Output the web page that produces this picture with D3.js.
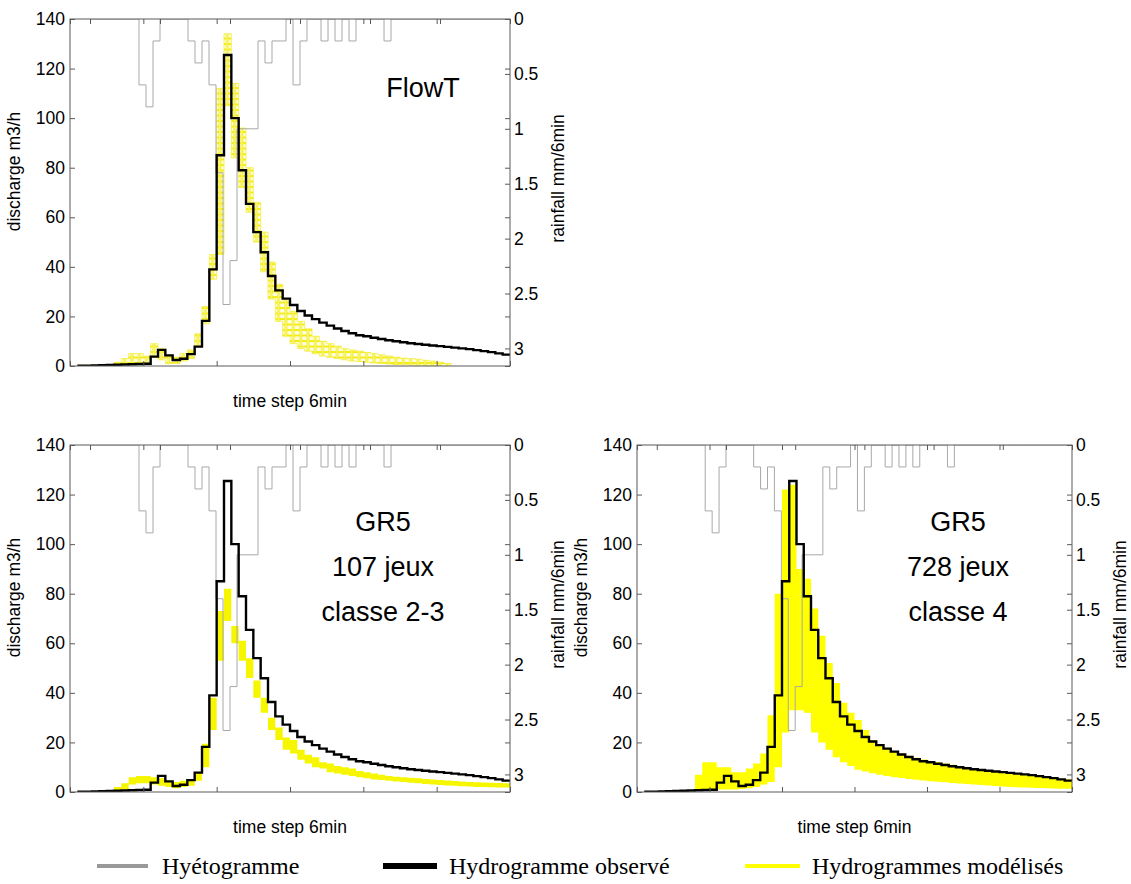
<!DOCTYPE html>
<html>
<head>
<meta charset="utf-8">
<script src="https://cdn.jsdelivr.net/npm/d3@7"></script>
<style>
  body { margin: 0; background: #fff; }
  svg text { font-family: Arial, "Liberation Sans", sans-serif; fill: #000; }
</style>
</head>
<body>
<svg id="chart" width="1131" height="884"></svg>
<script>
// ---------- data ----------
// discharge time steps (6 min), index 0..59
const steps = d3.range(0, 60);

// observed hydrograph, m3/h (null = no record)
const observed = [null, 0.1, 0.15, 0.2, 0.3, 0.4, 0.5, 0.6, 0.7, 0.8,
  0.9, 3.8, 6.5, 4.3, 2.4, 2.9, 4.8, 7.8, 18.2, 39,
  85, 125.5, 100, 79, 65.4, 54, 45.9, 36.3, 30.5, 27.2,
  24.6, 22.2, 20.4, 18.9, 17.5, 16.3, 15.1, 14.1, 13.2, 12.4,
  12.0, 11.4, 10.9, 10.4, 10.0, 9.6, 9.2, 8.9, 8.6, 8.3,
  8.0, 7.7, 7.4, 7.1, 6.8, 6.4, 6.0, 5.6, 5.1, 4.6];

// FlowT ensemble envelope (min / max of simulated discharge)
const flowtLow = [null, 0, 0, 0, 0, 0, 0.2, 0.5, 0.5, 1,
  1, 3.5, 2.5, 1, 1, 2, 3, 8, 17, 35,
  45, 105, 84, 72, 62, 50, 38, 27, 18, 12,
  9, 7, 6, 5, 4, 3.5, 3, 2.5, 2, 1.8,
  1.5, 1.2, 1, 0.8, 0.6, 0.5, 0.4, 0.3, 0.2, 0.1,
  0, 0, null, null, null, null, null, null, null, null];
const flowtHigh = [null, 0.3, 0.3, 0.4, 0.5, 0.6, 1.5, 3, 5, 5,
  4, 9, 7, 4, 3.5, 5, 6.5, 13, 24, 45,
  112, 134, 114, 96, 80, 66, 54, 42, 33, 27,
  22, 18, 15, 12, 10, 9, 8, 7, 6.5, 6,
  5.5, 5, 4.5, 4, 3.5, 3.2, 3, 2.7, 2.3, 2,
  1.5, 1, null, null, null, null, null, null, null, null];

// GR5, 107 parameter sets (classes 2-3)
const gr5aLow = [null, 0, 0, 0, 0, 0, 0.3, 1, 3, 3.5,
  3.5, 3, 2.5, 2, 1.5, 2, 2.5, 4.5, 10, 25,
  53, 69, 60, 53, 46, 38, 32, 25, 21, 17,
  15.5, 13, 11.5, 10, 9.5, 8, 7.5, 7, 6.5, 6,
  5.5, 5, 4.8, 4.5, 4.2, 4, 3.7, 3.5, 3.2, 3,
  2.8, 2.6, 2.5, 2.3, 2.2, 2, 2, 1.9, 1.8, 1.8];
const gr5aHigh = [null, 0.4, 0.4, 0.4, 0.4, 0.4, 2, 3.5, 6, 6.5,
  6.5, 6, 5.5, 4.5, 4, 4.5, 5, 8, 19.5, 38,
  73, 82, 67, 61, 54, 45, 38, 30, 26, 22,
  21, 17, 15, 14, 12, 11.5, 10.5, 10, 9.5, 8.5,
  8, 7.5, 7, 6.5, 6.2, 6, 5.7, 5.5, 5.2, 5,
  4.8, 4.6, 4.4, 4.2, 4, 3.9, 3.8, 3.7, 3.6, 3.5];

// GR5, 728 parameter sets (class 4)
const gr5bLow = [null, null, null, null, null, null, null, null, 0.5, 0.7,
  0.8, 1, 1, 1, 1.2, 1.5, 2, 3, 4, 10,
  24, 33, 33, 32, 24, 20, 17, 14, 12, 10.5,
  9, 8.3, 7.6, 7, 6.5, 6, 5.6, 5.2, 4.9, 4.6,
  4.3, 4.1, 3.9, 3.6, 3.4, 3.2, 3.0, 2.8, 2.6, 2.4,
  2.2, 2.0, 1.9, 1.8, 1.7, 1.6, 1.5, 1.4, 1.3, 1.3];
const gr5bHigh = [null, null, null, null, null, null, null, null, 7, 12,
  12, 10, 10, 8, 8, 9.5, 11.5, 15.5, 31, 80,
  122, 124, 90, 86, 74, 63, 52, 44, 36, 32,
  29, 25, 21, 19, 17.5, 16.5, 15.5, 14.6, 13.8, 13.1,
  12.5, 12, 11.5, 11, 10.5, 10, 9.6, 9.2, 8.8, 8.4,
  8, 7.6, 7.2, 6.9, 6.6, 6.3, 6, 5.7, 5.4, 5.1];

// hyetograph, mm per 6 min, rainfall time index 0..59
const rain = [0, 0, 0, 0, 0, 0, 0, 0.6, 0.8, 0.2,
  0, 0, 0, 0, 0.2, 0.4, 0.2, 0.6, 1.4, 2.6,
  2.2, 1.0, 1.0, 1.0, 0.2, 0.4, 0.2, 0.2, 0, 0.6,
  0.2, 0, 0, 0.2, 0, 0.2, 0, 0.2, 0, 0,
  0, 0, 0.2, 0, 0, 0, 0, 0, 0, 0,
  0, 0, 0, 0, 0, 0, 0, 0, 0, 0];

// axis ticks
const dischargeTicks = [0, 20, 40, 60, 80, 100, 120, 140];
const rainTicks = [0, 0.5, 1, 1.5, 2, 2.5, 3];
const rainTickLabels = ["0", "0.5", "1", "1.5", "2", "2.5", "3"];
const timeTicks = [0, 10, 20, 30, 40, 50, 60];

// legend
const legendLabels = ["Hyétogramme", "Hydrogramme observé", "Hydrogrammes modélisés"];

// ---------- drawing ----------
const svg = d3.select("#chart");
svg.append("rect").attr("width", 1131).attr("height", 884).attr("fill", "#fff");

const defs = svg.append("defs");
// hollow square markers used for the FlowT ensemble
const pat = defs.append("pattern")
  .attr("id", "squares").attr("patternUnits", "userSpaceOnUse")
  .attr("width", 440 / 60).attr("height", 5.5);
pat.append("rect").attr("width", 440 / 60).attr("height", 5.5).attr("fill", "#fffde0");
pat.append("rect").attr("x", 0.8).attr("y", 0.5).attr("width", 5.6).attr("height", 4.6)
  .attr("fill", "none").attr("stroke", "#f2ec10").attr("stroke-width", 1);

const AX_FONT = "17.5px";

const panels = [
  { x: 70, y: 19, w: 440, h: 347, low: flowtLow, high: flowtHigh, fill: "url(#squares)",
    title: ["FlowT"], tx: 423, ty: 97, tdy: 0 },
  { x: 70, y: 445, w: 440, h: 347, low: gr5aLow, high: gr5aHigh, fill: "#f6f600",
    title: ["GR5", "107 jeux", "classe 2-3"], tx: 383, ty: 531, tdy: 45 },
  { x: 637, y: 445, w: 435, h: 347, low: gr5bLow, high: gr5bHigh, fill: "#ffff00",
    title: ["GR5", "728 jeux", "classe 4"], tx: 958, ty: 531, tdy: 45 }
];

panels.forEach((p, i) => {
  const g = svg.append("g");
  const xQ = d3.scaleLinear().domain([0, 60]).range([p.x, p.x + p.w]);
  const xR = d3.scaleLinear().domain([-20 / 7, 60]).range([p.x, p.x + p.w]);
  const yQ = d3.scaleLinear().domain([0, 140]).range([p.y + p.h, p.y]);
  const yR = d3.scaleLinear().domain([0, 3.16]).range([p.y, p.y + p.h]);

  const clipId = "clip" + i;
  defs.append("clipPath").attr("id", clipId).append("rect")
    .attr("x", p.x).attr("y", p.y).attr("width", p.w).attr("height", p.h);
  const plot = g.append("g").attr("clip-path", `url(#${clipId})`);

  // simulated envelope as a stepped band
  const band = steps.map(k => ({ k, lo: p.low[k], hi: p.high[k] }));
  const bandPts = [];
  band.forEach((d, idx) => {
    bandPts.push(d);
    const next = band[idx + 1];
    if (d.lo != null && (!next || next.lo == null)) bandPts.push({ k: d.k + 1, lo: d.lo, hi: d.hi });
  });
  const area = d3.area()
    .defined(d => d.lo != null)
    .curve(d3.curveStepAfter)
    .x(d => xQ(d.k)).y0(d => yQ(d.lo)).y1(d => yQ(d.hi));
  plot.append("path").attr("d", area(bandPts)).attr("fill", p.fill)
    .attr("stroke", p.fill === "url(#squares)" ? "#f3ee40" : "none").attr("stroke-width", 0.8);

  // hyetograph (inverted, from the top)
  const rainPts = rain.map((r, j) => ({ j, r }));
  rainPts.push({ j: 60, r: rain[59] });
  const rainLine = d3.line().curve(d3.curveStepAfter).x(d => xR(d.j)).y(d => yR(d.r));
  plot.append("path").attr("d", rainLine(rainPts)).attr("fill", "none")
    .attr("stroke", "#a8a8a8").attr("stroke-width", 1);

  // observed hydrograph
  const obsPts = steps.map(k => ({ k, q: observed[k] }));
  obsPts.push({ k: 60, q: observed[59] });
  const obsLine = d3.line().defined(d => d.q != null).curve(d3.curveStepAfter)
    .x(d => xQ(d.k)).y(d => yQ(d.q));
  plot.append("path").attr("d", obsLine(obsPts)).attr("fill", "none")
    .attr("stroke", "#000").attr("stroke-width", 2.4).attr("stroke-linejoin", "miter");

  // frame
  g.append("rect").attr("x", p.x).attr("y", p.y).attr("width", p.w).attr("height", p.h)
    .attr("fill", "none").attr("stroke", "#5a5a5a").attr("stroke-width", 1);

  const tickStyle = sel => {
    sel.select(".domain").remove();
    sel.selectAll("line").attr("stroke", "#5a5a5a");
    sel.selectAll("text").style("font-size", AX_FONT).attr("fill", "#000");
  };

  g.append("g").attr("transform", `translate(${p.x},0)`)
    .call(d3.axisLeft(yQ).tickValues(dischargeTicks).tickSize(-5).tickPadding(5))
    .call(tickStyle);
  g.append("g").attr("transform", `translate(${p.x + p.w},0)`)
    .call(d3.axisRight(yQ).tickValues(dischargeTicks).tickSize(-5).tickFormat(""))
    .call(tickStyle);
  g.append("g").attr("transform", `translate(${p.x + p.w},0)`)
    .call(d3.axisRight(yR).tickValues(rainTicks).tickSize(-5).tickPadding(4)
      .tickFormat((d, n) => rainTickLabels[n]))
    .call(tickStyle);
  g.append("g").attr("transform", `translate(0,${p.y + p.h})`)
    .call(d3.axisBottom(xQ).tickValues(timeTicks).tickSize(-5).tickFormat(""))
    .call(tickStyle);
  g.append("g").attr("transform", `translate(0,${p.y})`)
    .call(d3.axisTop(xQ).tickValues(timeTicks).tickSize(-5).tickFormat(""))
    .call(tickStyle);
  g.append("g").attr("transform", `translate(0,${p.y})`)
    .call(d3.axisTop(xR).tickValues(timeTicks).tickSize(-5).tickFormat(""))
    .call(tickStyle);

  // axis titles
  g.append("text").attr("transform", `translate(${p.x - 50},${p.y + p.h / 2 - 21}) rotate(-90)`)
    .attr("text-anchor", "middle").style("font-size", AX_FONT).text("discharge m3/h");
  g.append("text").attr("transform", `translate(${p.x + p.w + 54},${p.y + p.h / 2 - 14}) rotate(-90)`)
    .attr("text-anchor", "middle").style("font-size", AX_FONT).text("rainfall mm/6min");
  g.append("text").attr("x", p.x + p.w / 2).attr("y", p.y + p.h + 41)
    .attr("text-anchor", "middle").style("font-size", AX_FONT).text("time step 6min");

  // panel label
  p.title.forEach((t, n) => {
    g.append("text").attr("x", p.tx).attr("y", p.ty + n * p.tdy)
      .attr("text-anchor", "middle").style("font-size", "27px").text(t);
  });
});

// ---------- legend ----------
const legend = svg.append("g");
const legendItems = [
  { label: legendLabels[0], color: "#999999", width: 4, x1: 97, x2: 148, tx: 162 },
  { label: legendLabels[1], color: "#000000", width: 6, x1: 383, x2: 437, tx: 449 },
  { label: legendLabels[2], color: "#ffff00", width: 4, x1: 745, x2: 800, tx: 812 }
];
legendItems.forEach(d => {
  legend.append("line").attr("x1", d.x1).attr("x2", d.x2).attr("y1", 866).attr("y2", 866)
    .attr("stroke", d.color).attr("stroke-width", d.width);
  legend.append("text").attr("x", d.tx).attr("y", 874)
    .style("font-family", "'Liberation Serif', 'Times New Roman', serif")
    .style("font-size", "24px").text(d.label);
});
</script>
</body>
</html>
